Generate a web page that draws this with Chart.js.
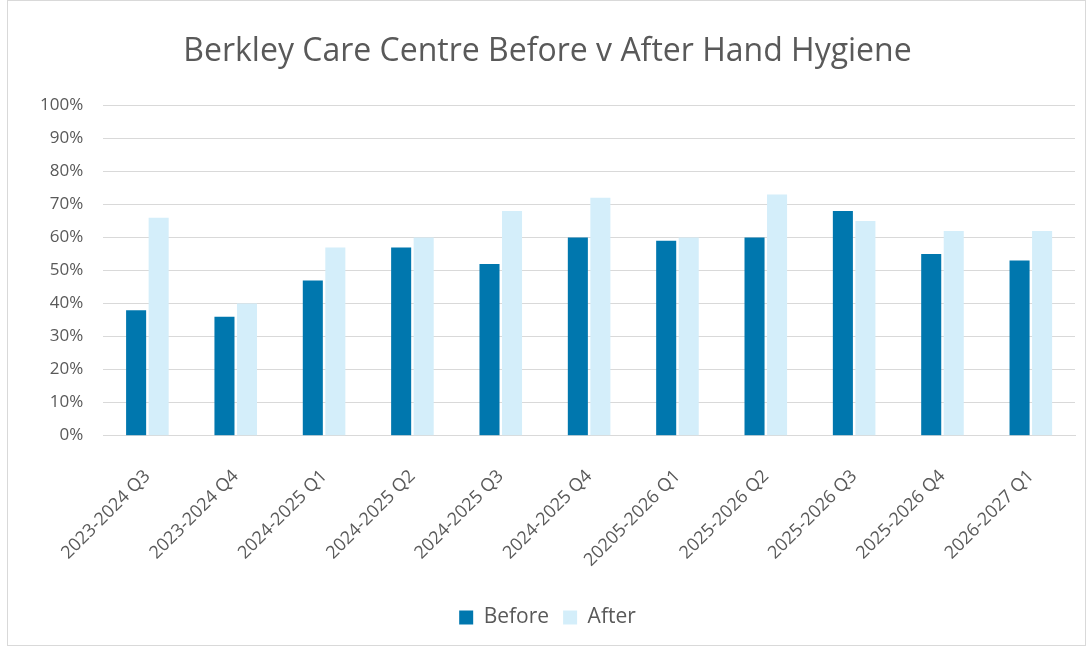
<!DOCTYPE html>
<html>
<head>
<meta charset="utf-8">
<script src="https://cdn.jsdelivr.net/npm/chart.js@4"></script>
<style>
  html, body { margin: 0; padding: 0; background: #fff; }
  #wrap { position: absolute; left: 7px; top: 0; width: 1079px; height: 646px; border: 1px solid #d9d9d9; box-sizing: border-box; }
  canvas { display: block; }
</style>
</head>
<body>
<div id="wrap"><canvas id="chart" width="1077" height="644"></canvas></div>
<script>
const categories = ['2023-2024 Q3', '2023-2024 Q4', '2024-2025 Q1', '2024-2025 Q2', '2024-2025 Q3', '2024-2025 Q4',
                    '20205-2026 Q1', '2025-2026 Q2', '2025-2026 Q3', '2025-2026 Q4', '2026-2027 Q1'];
const beforeValues = [38, 36, 47, 57, 52, 60, 59, 60, 68, 55, 53];
const afterValues  = [66, 40, 57, 60, 68, 72, 60, 73, 65, 62, 62];

const TEXT = '#595959';
const GRID = '#d9d9d9';
const FONT = "'Open Sans', sans-serif";

new Chart(document.getElementById('chart'), {
    type: 'bar',
    data: {
        labels: categories,
        datasets: [
            { label: 'Before', data: beforeValues, backgroundColor: '#0077ae', borderWidth: 0 },
            { label: 'After',  data: afterValues,  backgroundColor: '#d4eefa', borderWidth: 0 }
        ]
    },
    options: {
        responsive: false,
        animation: false,
        categoryPercentage: 0.51,
        barPercentage: 0.89,
        layout: { padding: { left: 12, right: 10, top: 10, bottom: 7 } },
        plugins: {
            title: {
                display: true,
                text: 'Berkley Care Centre Before v After Hand Hygiene',
                color: TEXT,
                font: { family: FONT, size: 32, weight: 'normal' },
                padding: { top: 22, bottom: 34 }
            },
            legend: {
                position: 'bottom',
                labels: { color: TEXT, font: { family: FONT, size: 21 }, boxWidth: 14, boxHeight: 14, padding: 14 }
            },
            tooltip: { enabled: false }
        },
        scales: {
            x: {
                grid: { display: false },
                border: { color: GRID },
                ticks: { color: TEXT, font: { family: FONT, size: 18 }, minRotation: 45, maxRotation: 45, padding: 22 }
            },
            y: {
                min: 0, max: 100,
                grid: { color: GRID, drawTicks: false },
                border: { display: false },
                ticks: {
                    stepSize: 10, color: TEXT, padding: 20,
                    font: { family: FONT, size: 17 },
                    callback: v => v + '%'
                }
            }
        }
    }
});
</script>
</body>
</html>
